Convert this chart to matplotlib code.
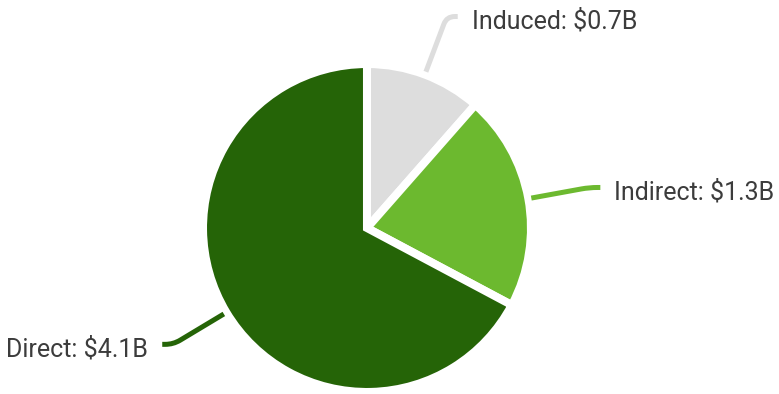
import numpy as np
import matplotlib.pyplot as plt
from matplotlib.path import Path
from matplotlib.patches import PathPatch

# impact components, billions of dollars
labels = ['Induced', 'Indirect', 'Direct']
values = [0.7, 1.3, 4.1]
colors = ['#dddddd', '#6cb92f', '#256407']

W, H = 779, 394
fig = plt.figure(figsize=(W / 100, H / 100), dpi=100)
ax = fig.add_axes([0, 0, 1, 1])

cx, cy = 367, H - 228
r = 164

wedges, _ = ax.pie(values, colors=colors, startangle=90, counterclock=False,
                   center=(cx, cy), radius=r, frame=True,
                   wedgeprops=dict(edgecolor='white', linewidth=5.8))
ax.set_xlim(0, W)
ax.set_ylim(0, H)
ax.set_aspect('equal')
ax.axis('off')

# leader lines: radial stub, rounded elbow, short horizontal run
r1, r2, run = 167, 226, 3
for w, lab, val, col in zip(wedges, labels, values, colors):
    ang = np.deg2rad((w.theta1 + w.theta2) / 2)
    u = np.array([np.cos(ang), np.sin(ang)])
    side = 1 if u[0] >= 0 else -1
    p0 = np.array([cx, cy]) + r1 * u
    p1 = np.array([cx, cy]) + r2 * u
    a = p1 - 8 * u
    b = p1 + np.array([side * 8, 0])
    p2 = p1 + np.array([side * (run + 8), 0])
    path = Path([p0, a, p1, b, p2],
                [Path.MOVETO, Path.LINETO, Path.CURVE3, Path.CURVE3, Path.LINETO])
    ax.add_patch(PathPatch(path, fill=False, edgecolor=col, lw=3.6,
                           capstyle='butt', joinstyle='round'))
    ax.text(p2[0] + side * 14, p2[1] - 5, f'{lab}: ${val}B',
            ha='left' if side > 0 else 'right', va='center',
            fontsize=18, family='Roboto', color='#3c3c3c')

fig.savefig('out.png', dpi=100)
